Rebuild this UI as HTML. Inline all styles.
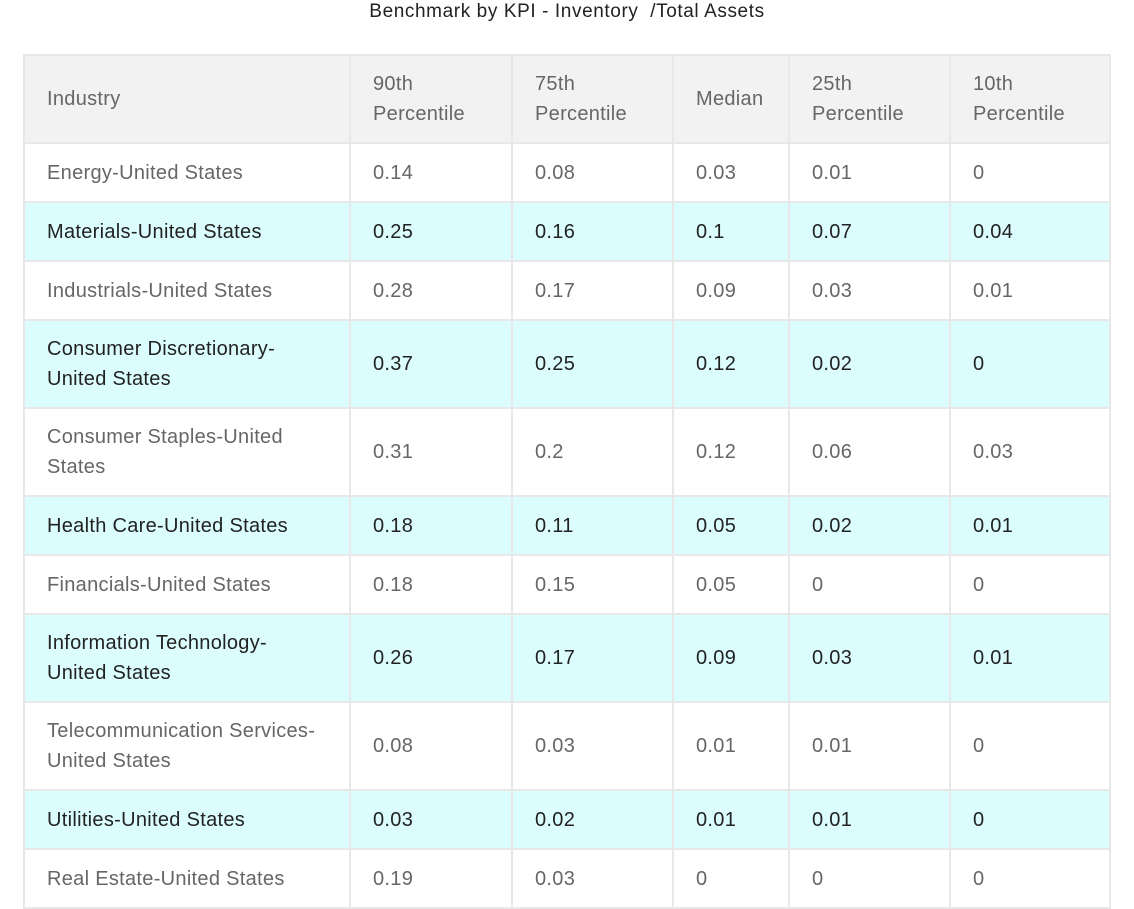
<!DOCTYPE html>
<html><head><meta charset="utf-8"><style>
body{margin:0;width:1134px;height:907px;background:#fff;font-family:"Liberation Sans",Arial,sans-serif;position:relative;overflow:hidden}
.t{position:absolute;top:1px;left:0;width:1134px;text-align:center;font-size:19px;letter-spacing:0.6px;color:#222;line-height:22px}
table{position:absolute;left:23px;top:54px;border-collapse:collapse;table-layout:fixed;width:1086px}
td{border:2px solid #e8e8e8;padding:0 0 0 22px;font-size:20px;letter-spacing:0.3px;line-height:30px;color:#666;vertical-align:middle;box-sizing:border-box;white-space:nowrap}
tr.h td{background:#f2f2f2}
tr.c td{background:#dcfdfd;color:#222}
</style></head><body>
<div class="t">Benchmark by KPI - Inventory &nbsp;/Total Assets</div>
<table>
<colgroup><col style="width:326px"><col style="width:162px"><col style="width:161px"><col style="width:116px"><col style="width:161px"><col style="width:160px"></colgroup>
<tr class="h" style="height:88px"><td>Industry</td><td>90th<br>Percentile</td><td>75th<br>Percentile</td><td>Median</td><td>25th<br>Percentile</td><td>10th<br>Percentile</td></tr>
<tr style="height:59px"><td>Energy-United States</td><td>0.14</td><td>0.08</td><td>0.03</td><td>0.01</td><td>0</td></tr>
<tr class="c" style="height:59px"><td>Materials-United States</td><td>0.25</td><td>0.16</td><td>0.1</td><td>0.07</td><td>0.04</td></tr>
<tr style="height:59px"><td>Industrials-United States</td><td>0.28</td><td>0.17</td><td>0.09</td><td>0.03</td><td>0.01</td></tr>
<tr class="c" style="height:88px"><td>Consumer Discretionary-<br>United States</td><td>0.37</td><td>0.25</td><td>0.12</td><td>0.02</td><td>0</td></tr>
<tr style="height:88px"><td>Consumer Staples-United<br>States</td><td>0.31</td><td>0.2</td><td>0.12</td><td>0.06</td><td>0.03</td></tr>
<tr class="c" style="height:59px"><td>Health Care-United States</td><td>0.18</td><td>0.11</td><td>0.05</td><td>0.02</td><td>0.01</td></tr>
<tr style="height:59px"><td>Financials-United States</td><td>0.18</td><td>0.15</td><td>0.05</td><td>0</td><td>0</td></tr>
<tr class="c" style="height:88px"><td>Information Technology-<br>United States</td><td>0.26</td><td>0.17</td><td>0.09</td><td>0.03</td><td>0.01</td></tr>
<tr style="height:88px"><td>Telecommunication Services-<br>United States</td><td>0.08</td><td>0.03</td><td>0.01</td><td>0.01</td><td>0</td></tr>
<tr class="c" style="height:59px"><td>Utilities-United States</td><td>0.03</td><td>0.02</td><td>0.01</td><td>0.01</td><td>0</td></tr>
<tr style="height:59px"><td>Real Estate-United States</td><td>0.19</td><td>0.03</td><td>0</td><td>0</td><td>0</td></tr>
</table>
</body></html>
